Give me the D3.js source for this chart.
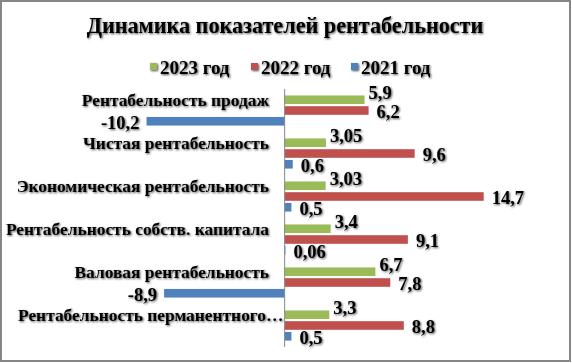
<!DOCTYPE html>
<html>
<head>
<meta charset="utf-8">
<script src="https://cdn.jsdelivr.net/npm/d3@7"></script>
<style>
  body { margin: 0; background: #fff; }
  text { font-family: "Liberation Serif", "Times New Roman", serif; font-weight: bold; fill: #000; }
</style>
</head>
<body>
<div id="chart"></div>
<script>
const categories = [
    'Рентабельность продаж',
    'Чистая рентабельность',
    'Экономическая рентабельность',
    'Рентабельность собств. капитала',
    'Валовая рентабельность',
    'Рентабельность перманентного…'
];
const seriesNames = ['2023 год', '2022 год', '2021 год'];
const values2023 = [5.9, 3.05, 3.03, 3.4, 6.7, 3.3];
const values2022 = [6.2, 9.6, 14.7, 9.1, 7.8, 8.8];
const values2021 = [-10.2, 0.6, 0.5, 0.06, -8.9, 0.5];
const colors = ['#9bbb59', '#c0504d', '#4f81bd'];

const width = 572, height = 363;
const plot = { left: 81.5, right: 555.5, top: 89, bottom: 347 };

const svg = d3.select('#chart').append('svg')
    .attr('width', width)
    .attr('height', height);

const defs = svg.append('defs');
defs.append('filter').attr('id', 'shadow')
    .attr('x', '-5%').attr('y', '-20%').attr('width', '110%').attr('height', '150%')
    .append('feDropShadow')
    .attr('dx', 1).attr('dy', 1).attr('stdDeviation', 0.8)
    .attr('flood-color', '#000').attr('flood-opacity', 0.7);

svg.append('rect')
    .attr('x', 1).attr('y', 1)
    .attr('width', width - 3).attr('height', height - 3)
    .attr('fill', '#fff')
    .attr('stroke', '#868686')
    .attr('stroke-width', 2);

// title
svg.append('text')
    .attr('x', 285).attr('y', 33)
    .attr('text-anchor', 'middle')
    .attr('filter', 'url(#shadow)')
    .style('font-size', '22.2px')
    .text('Динамика показателей  рентабельности');

// legend
const legend = svg.append('g').attr('filter', 'url(#shadow)');
const legendX = [150, 251, 351];
seriesNames.forEach((name, i) => {
    const g = legend.append('g').attr('transform', `translate(${legendX[i]},67)`);
    g.append('rect').attr('x', 0).attr('y', -4).attr('width', 7).attr('height', 7).attr('fill', colors[i]);
    g.append('text').attr('x', 10).attr('dy', '0.35em').style('font-size', '19px').text(name);
});

const data = categories.map((c, i) => ({
    category: c,
    values: [values2023[i], values2022[i], values2021[i]]
}));

const x = d3.scaleLinear().domain([-15, 20]).range([plot.left, plot.right]);
const y0 = d3.scaleBand().domain(categories).range([plot.top, plot.bottom])
    .paddingInner(0.3).paddingOuter(0.15);
const y1 = d3.scaleBand().domain(seriesNames).range([0, y0.bandwidth()]).paddingInner(0.2);

const groups = svg.append('g')
    .selectAll('g').data(data)
    .enter()
    .append('g')
    .attr('transform', d => `translate(0,${y0(d.category)})`);

groups.selectAll('rect')
    .data(d => d.values.map((v, i) => ({ v: v, i: i })))
    .enter()
    .append('rect')
    .attr('x', d => x(Math.min(0, d.v)))
    .attr('y', d => y1(seriesNames[d.i]))
    .attr('width', d => Math.abs(x(d.v) - x(0)))
    .attr('height', y1.bandwidth())
    .attr('fill', d => colors[d.i]);

// value labels, comma as decimal separator
groups.append('g').attr('filter', 'url(#shadow)')
    .selectAll('text')
    .data(d => d.values.map((v, i) => ({ v: v, i: i })))
    .enter()
    .append('text')
    .attr('x', d => d.v < 0 ? x(d.v) - 7 : x(d.v) + (d.i === 0 ? 4 : 8))
    .attr('y', d => y1(seriesNames[d.i]) + y1.bandwidth() / 2 + (d.i === 0 ? -7 : 1))
    .attr('dy', '0.35em')
    .attr('text-anchor', d => d.v < 0 ? 'end' : 'start')
    .style('font-size', '18.5px')
    .text(d => String(d.v).replace('.', ','));

// axis line
svg.append('line')
    .attr('x1', x(0)).attr('x2', x(0))
    .attr('y1', plot.top).attr('y2', plot.bottom)
    .attr('stroke', '#868686')
    .attr('stroke-width', 1);

// category labels, aligned with the first bar of each group;
// the truncated one starts at the left margin instead
svg.append('g').attr('filter', 'url(#shadow)')
    .selectAll('text').data(categories)
    .enter()
    .append('text')
    .attr('x', c => c.endsWith('…') ? 18 : 269)
    .attr('y', c => y0(c) + y1(seriesNames[0]) + y1.bandwidth() / 2)
    .attr('dy', '0.35em')
    .attr('text-anchor', c => c.endsWith('…') ? 'start' : 'end')
    .style('font-size', '17.4px')
    .text(c => c);
</script>
</body>
</html>
